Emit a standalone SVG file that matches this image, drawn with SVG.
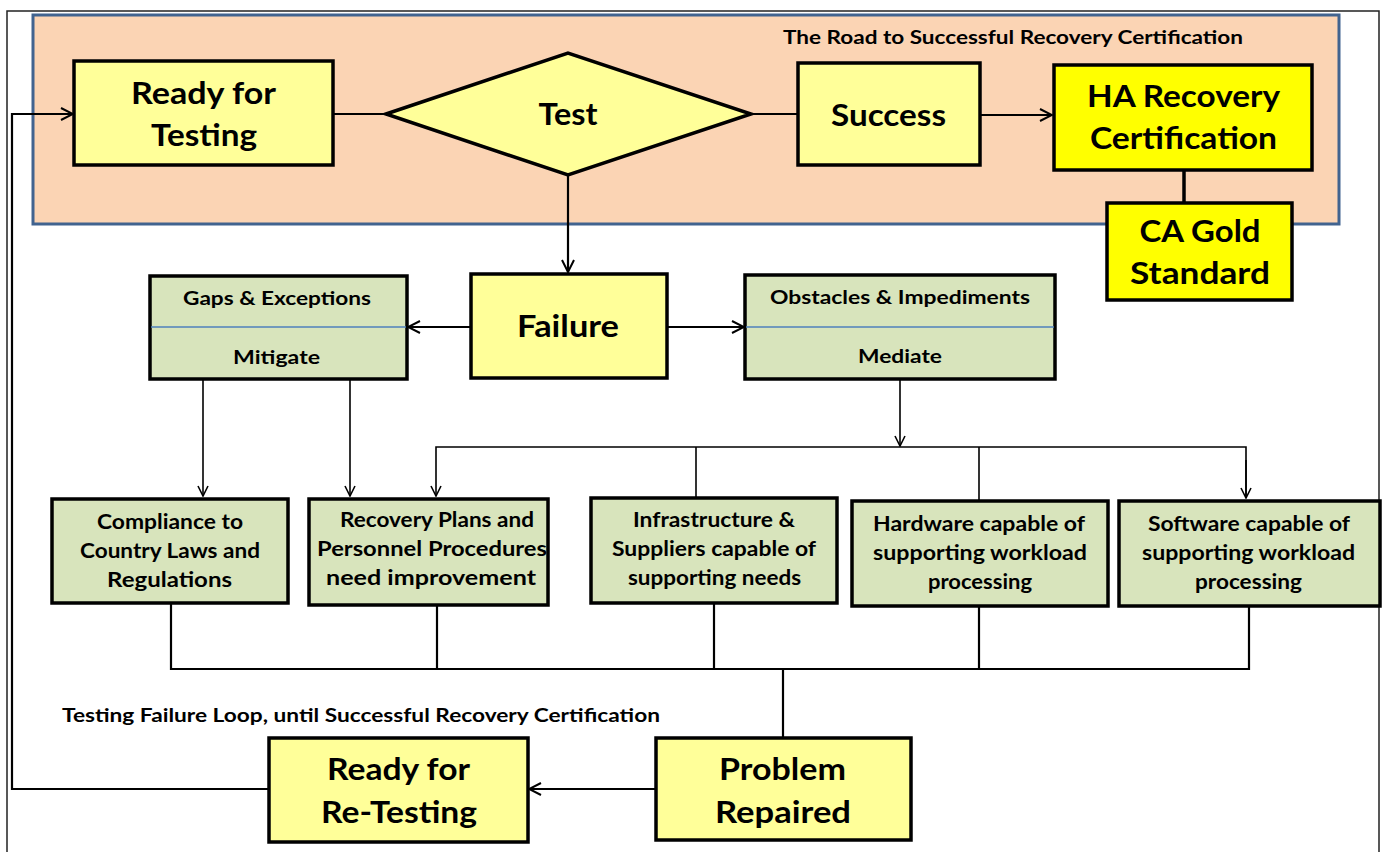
<svg xmlns="http://www.w3.org/2000/svg" width="1384" height="852" viewBox="0 0 1384 852">
  <defs>
    <marker id="arr" viewBox="0 0 12 12" refX="11" refY="6" markerWidth="12" markerHeight="12" markerUnits="userSpaceOnUse" orient="auto">
      <path d="M1,1 L11,6 L1,11" fill="none" stroke="#000" stroke-width="1.6"/>
    </marker>
    <marker id="arrB" viewBox="0 0 14 14" refX="13" refY="7" markerWidth="14" markerHeight="14" markerUnits="userSpaceOnUse" orient="auto">
      <path d="M1,1 L13,7 L1,13" fill="none" stroke="#000" stroke-width="2"/>
    </marker>
  </defs>
  <style>
    .t { font-family: Lato, "Liberation Sans", sans-serif; font-weight: bold; text-anchor: middle; fill: #000; }
    .big { font-size: 31px; }
    .mid { font-size: 20px; }
    .sm { font-size: 19px; }
    .yel { fill: #ffff99; stroke: #000; stroke-width: 3.5; }
    .gold { fill: #ffff00; stroke: #000; stroke-width: 3.5; }
    .grn { fill: #d8e4bc; stroke: #000; stroke-width: 3.5; }
    .ln { fill: none; stroke: #000; stroke-width: 1.6; }
    .lnb { fill: none; stroke: #000; stroke-width: 2.2; }
  </style>

  <rect width="1384" height="852" fill="#fff"/>
  <!-- outer frame -->
  <path d="M7,852 L7,11 L1379,11 L1379,852" fill="none" stroke="#222" stroke-width="1.5"/>

  <!-- success band -->
  <g id="band">
    <rect x="33" y="15" width="1306" height="209" fill="#fbd4b4" stroke="#41638f" stroke-width="3"/>
    <text class="t" x="1013" y="44" style="font-size:19px" textLength="460" lengthAdjust="spacingAndGlyphs">The Road to Successful Recovery Certification</text>
  </g>

  <!-- connectors -->
  <g id="connectors">
    <line class="lnb" x1="333" y1="114" x2="386" y2="114"/>
    <line class="lnb" x1="751" y1="114" x2="797" y2="114"/>
    <line class="lnb" x1="980" y1="115" x2="1052" y2="115" marker-end="url(#arrB)"/>
    <line x1="1184" y1="170" x2="1184" y2="203" stroke="#000" stroke-width="3.5"/>
    <line class="lnb" x1="568" y1="175" x2="568" y2="272" marker-end="url(#arrB)"/>
    <line class="lnb" x1="470" y1="327" x2="408" y2="327" marker-end="url(#arrB)"/>
    <line class="lnb" x1="667" y1="327" x2="744" y2="327" marker-end="url(#arrB)"/>
    <line class="ln" x1="203" y1="379" x2="203" y2="496" marker-end="url(#arr)"/>
    <line class="ln" x1="350" y1="379" x2="350" y2="496" marker-end="url(#arr)"/>
    <line class="ln" x1="900" y1="379" x2="900" y2="446" marker-end="url(#arr)"/>
    <path class="ln" d="M1246,498 L1246,447 L436,447 L436,496" marker-end="url(#arr)"/>
    <line class="ln" x1="1246" y1="460" x2="1246" y2="498" marker-end="url(#arr)"/>
    <line class="ln" x1="696" y1="447" x2="696" y2="498"/>
    <line class="ln" x1="979" y1="447" x2="979" y2="500"/>
    <path class="lnb" d="M171,603 L171,669 L1249,669 L1249,606"/>
    <line class="lnb" x1="437" y1="605" x2="437" y2="669"/>
    <line class="lnb" x1="714" y1="603" x2="714" y2="669"/>
    <line class="lnb" x1="979" y1="606" x2="979" y2="669"/>
    <line class="lnb" x1="783" y1="669" x2="783" y2="737"/>
    <line class="lnb" x1="655" y1="789" x2="529" y2="789" marker-end="url(#arrB)"/>
    <path class="lnb" d="M268,789 L12,789 L12,114 L73,114" marker-end="url(#arrB)"/>
  </g>

  <g id="ready">
    <rect class="yel" x="74" y="61" width="259" height="104"/>
    <text class="t big" x="203.5" y="104" textLength="145" lengthAdjust="spacingAndGlyphs">Ready for</text>
    <text class="t big" x="204" y="146" textLength="106" lengthAdjust="spacingAndGlyphs">Testing</text>
  </g>
  <g id="test">
    <polygon class="yel" points="386,114 568,53 751,114 568,175"/>
    <text class="t big" x="568" y="125" textLength="59" lengthAdjust="spacingAndGlyphs">Test</text>
  </g>
  <g id="success">
    <rect class="yel" x="798" y="63" width="182" height="102"/>
    <text class="t big" x="888.5" y="126" textLength="115" lengthAdjust="spacingAndGlyphs">Success</text>
  </g>
  <g id="ha-cert">
    <rect class="gold" x="1054" y="65" width="258" height="105"/>
    <text class="t big" x="1183.5" y="107" textLength="193" lengthAdjust="spacingAndGlyphs">HA Recovery</text>
    <text class="t big" x="1183.5" y="149" textLength="187" lengthAdjust="spacingAndGlyphs">Certification</text>
  </g>
  <g id="ca-gold">
    <rect class="gold" x="1107" y="203" width="185" height="97"/>
    <text class="t big" x="1200" y="242" textLength="121" lengthAdjust="spacingAndGlyphs">CA Gold</text>
    <text class="t big" x="1200" y="284" textLength="140" lengthAdjust="spacingAndGlyphs">Standard</text>
  </g>
  <g id="failure">
    <rect class="yel" x="471" y="274" width="196" height="104"/>
    <text class="t big" x="568" y="337" textLength="102" lengthAdjust="spacingAndGlyphs">Failure</text>
  </g>
  <g id="gaps">
    <rect class="grn" x="150" y="276" width="257" height="103"/>
    <line x1="151" y1="327" x2="406" y2="327" stroke="#4f81bd" stroke-width="1.5"/>
    <text class="t sm" x="277" y="305" textLength="188" lengthAdjust="spacingAndGlyphs">Gaps &amp; Exceptions</text>
    <text class="t sm" x="276.5" y="364" textLength="87" lengthAdjust="spacingAndGlyphs">Mitigate</text>
  </g>
  <g id="obstacles">
    <rect class="grn" x="745" y="275" width="310" height="104"/>
    <line x1="746" y1="327" x2="1054" y2="327" stroke="#4f81bd" stroke-width="1.5"/>
    <text class="t sm" x="900" y="304" textLength="260" lengthAdjust="spacingAndGlyphs">Obstacles &amp; Impediments</text>
    <text class="t sm" x="900" y="363" textLength="84" lengthAdjust="spacingAndGlyphs">Mediate</text>
  </g>
  <g id="compliance">
    <rect class="grn" x="52" y="499" width="236" height="104"/>
    <text class="t mid" x="170" y="529" textLength="146" lengthAdjust="spacingAndGlyphs">Compliance to</text>
    <text class="t mid" x="170" y="558" textLength="180" lengthAdjust="spacingAndGlyphs">Country Laws and</text>
    <text class="t mid" x="169.5" y="587" textLength="125" lengthAdjust="spacingAndGlyphs">Regulations</text>
  </g>
  <g id="plans">
    <rect class="grn" x="309" y="499" width="239" height="106"/>
    <text class="t mid" x="437" y="527" textLength="194" lengthAdjust="spacingAndGlyphs">Recovery Plans and</text>
    <text class="t mid" x="432" y="556" textLength="230" lengthAdjust="spacingAndGlyphs">Personnel Procedures</text>
    <text class="t mid" x="431" y="585" textLength="210" lengthAdjust="spacingAndGlyphs">need improvement</text>
  </g>
  <g id="infra">
    <rect class="grn" x="591" y="498" width="246" height="105"/>
    <text class="t mid" x="714" y="527" textLength="162" lengthAdjust="spacingAndGlyphs">Infrastructure &amp;</text>
    <text class="t mid" x="714" y="556" textLength="204" lengthAdjust="spacingAndGlyphs">Suppliers capable of</text>
    <text class="t mid" x="714.5" y="585" textLength="173" lengthAdjust="spacingAndGlyphs">supporting needs</text>
  </g>
  <g id="hardware">
    <rect class="grn" x="852" y="501" width="256" height="105"/>
    <text class="t mid" x="979" y="531" textLength="212" lengthAdjust="spacingAndGlyphs">Hardware capable of</text>
    <text class="t mid" x="980" y="560" textLength="214" lengthAdjust="spacingAndGlyphs">supporting workload</text>
    <text class="t mid" x="980" y="589" textLength="104" lengthAdjust="spacingAndGlyphs">processing</text>
  </g>
  <g id="software">
    <rect class="grn" x="1119" y="501" width="261" height="105"/>
    <text class="t mid" x="1249" y="531" textLength="202" lengthAdjust="spacingAndGlyphs">Software capable of</text>
    <text class="t mid" x="1248.5" y="560" textLength="213" lengthAdjust="spacingAndGlyphs">supporting workload</text>
    <text class="t mid" x="1248.5" y="589" textLength="107" lengthAdjust="spacingAndGlyphs">processing</text>
  </g>

  <text class="t" x="62" y="722" style="font-size:18px;text-anchor:start" textLength="598" lengthAdjust="spacingAndGlyphs">Testing Failure Loop, until Successful Recovery Certification</text>

  <g id="retest">
    <rect class="yel" x="269" y="738" width="259" height="104"/>
    <text class="t big" x="398.5" y="780" textLength="143" lengthAdjust="spacingAndGlyphs">Ready for</text>
    <text class="t big" x="399" y="823" textLength="156" lengthAdjust="spacingAndGlyphs">Re-Testing</text>
  </g>
  <g id="repaired">
    <rect class="yel" x="656" y="738" width="255" height="102"/>
    <text class="t big" x="782.5" y="780" textLength="127" lengthAdjust="spacingAndGlyphs">Problem</text>
    <text class="t big" x="783" y="823" textLength="136" lengthAdjust="spacingAndGlyphs">Repaired</text>
  </g>
</svg>
